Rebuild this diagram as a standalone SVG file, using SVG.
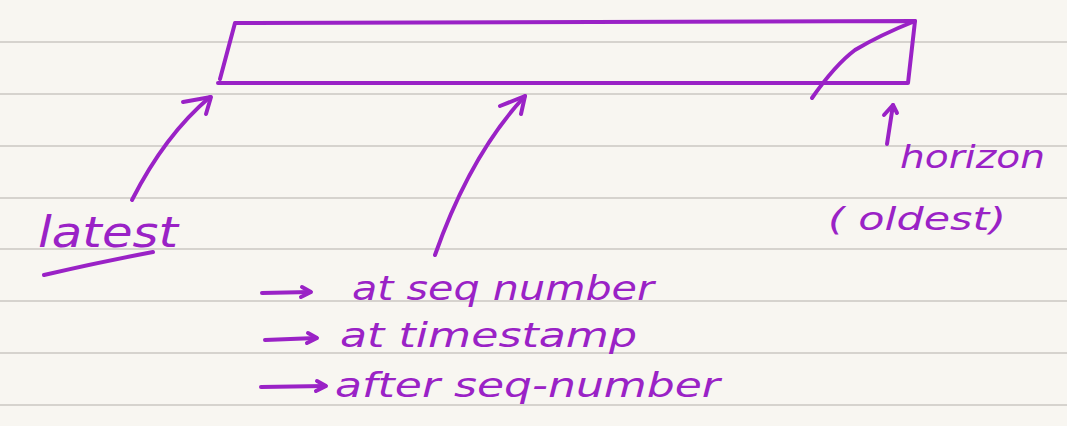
<svg xmlns="http://www.w3.org/2000/svg" width="1067" height="426" viewBox="0 0 1067 426">
<style>
.rule{stroke:#d6d3ce;stroke-width:2}
.ink{fill:none;stroke:#9a22c6;stroke-width:4;stroke-linecap:round;stroke-linejoin:round}
.t{fill:#9a22c6;font-family:"DejaVu Sans",sans-serif;font-style:italic}
</style>
<rect width="1067" height="426" fill="#f8f6f1"/>
<g id="ruling">
<line class="rule" x1="0" y1="42" x2="1067" y2="42"/>
<line class="rule" x1="0" y1="94" x2="1067" y2="94"/>
<line class="rule" x1="0" y1="146" x2="1067" y2="146"/>
<line class="rule" x1="0" y1="198" x2="1067" y2="198"/>
<line class="rule" x1="0" y1="249" x2="1067" y2="249"/>
<line class="rule" x1="0" y1="301" x2="1067" y2="301"/>
<line class="rule" x1="0" y1="353" x2="1067" y2="353"/>
<line class="rule" x1="0" y1="405" x2="1067" y2="405"/>
</g>
<g id="log">
<path class="ink" d="M220 79 L235 23 L915 21 L908 83 L218 83"/>
<path class="ink" d="M812 98 Q835 65 855 50 Q880 35 915 21"/>
</g>
<g id="connectors">
<path class="ink" d="M132 200 Q165 135 210 97"/>
<path class="ink" d="M183 102 L211 97 L206 114"/>
<path class="ink" d="M435 255 Q470 155 525 96"/>
<path class="ink" d="M500 106 L525 96 L521 114"/>
<path class="ink" d="M887 144 L893 105"/>
<path class="ink" d="M884 115 L893 105 L897 113"/>
<path class="ink" d="M262 293 L310 292"/>
<path class="ink" d="M302 287 L311 292 L301 297"/>
<path class="ink" d="M265 340 L316 338"/>
<path class="ink" d="M308 333 L317 338 L307 343"/>
<path class="ink" d="M261 387 L325 386"/>
<path class="ink" d="M317 381 L326 386 L316 391"/>
</g>
<g id="latest">
<text class="t" x="38" y="247" font-size="42" textLength="140" lengthAdjust="spacingAndGlyphs">latest</text>
<path class="ink" d="M44 275 Q100 262 153 252"/>
</g>
<g id="horizon">
<text class="t" x="900" y="168" font-size="32" textLength="145" lengthAdjust="spacingAndGlyphs">horizon</text>
<text class="t" x="828" y="230" font-size="32" textLength="178" lengthAdjust="spacingAndGlyphs">( oldest)</text>
</g>
<g id="options">
<text class="t" x="352" y="300" font-size="34" textLength="302" lengthAdjust="spacingAndGlyphs">at seq number</text>
<text class="t" x="340" y="347" font-size="34" textLength="297" lengthAdjust="spacingAndGlyphs">at  timestamp</text>
<text class="t" x="335" y="397" font-size="34" textLength="385" lengthAdjust="spacingAndGlyphs">after seq-number</text>
</g>
</svg>
